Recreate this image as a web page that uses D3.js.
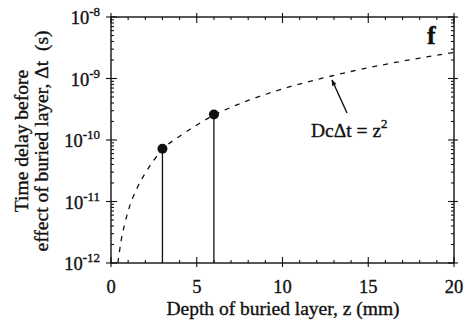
<!DOCTYPE html>
<html>
<head>
<meta charset="utf-8">
<script src="https://cdn.jsdelivr.net/npm/d3@7"></script>
<style>
  body { margin: 0; background: #fff; }
  svg text { font-family: "Liberation Serif", "DejaVu Serif", serif; fill: #111; stroke: #111; stroke-width: 0.35px; }
</style>
</head>
<body>
<svg id="chart" width="465" height="321"></svg>
<script>
'use strict';

// values
const curveZ  = [0.4, 0.6, 0.8, 1, 1.5, 2, 2.5, 3, 4, 5, 6, 7, 8, 9, 10, 12, 14, 16, 18, 20];
const curveDt = [1.0e-12, 2.4e-12, 4.3e-12, 7.0e-12, 1.6e-11, 2.9e-11, 4.7e-11, 7.0e-11,
                 1.15e-10, 1.75e-10, 2.55e-10, 3.4e-10, 4.4e-10, 5.5e-10, 6.8e-10,
                 9.6e-10, 1.3e-9, 1.7e-9, 2.15e-9, 2.65e-9];
const pointZ  = [3, 6];
const pointDt = [7.2e-11, 2.6e-10];
const xTicks  = [0, 5, 10, 15, 20];
const yExps   = [-12, -11, -10, -9, -8];

const svg = d3.select('#chart');
const pLeft = 111, pRight = 454, pTop = 17, pBottom = 263;

let x = d3.scaleLinear().domain([0, 20]).range([pLeft, pRight]);
let y = d3.scaleLog().domain([1e-12, 1e-8]).range([pBottom, pTop]);

// frame
svg.append('rect')
    .attr('x', pLeft).attr('y', pTop)
    .attr('width', pRight - pLeft).attr('height', pBottom - pTop)
    .attr('fill', 'none').attr('stroke', '#111').attr('stroke-width', 1.4);

// x ticks: major ones cross the axis, minor ones inside only
let g = svg.append('g').attr('stroke', '#111').attr('stroke-width', 1.1);
d3.range(0, 21).forEach(v => {
    let major = v % 5 === 0;
    let len = major ? 6 : 3, out = major ? 4 : 0;
    g.append('line').attr('x1', x(v)).attr('x2', x(v)).attr('y1', pBottom + out).attr('y2', pBottom - len);
    g.append('line').attr('x1', x(v)).attr('x2', x(v)).attr('y1', pTop - out).attr('y2', pTop + len);
});

// y ticks, log minor ticks on both sides
yExps.forEach((e, i) => {
    let v = Math.pow(10, e);
    g.append('line').attr('x1', pLeft - 5).attr('x2', pLeft + 6).attr('y1', y(v)).attr('y2', y(v));
    g.append('line').attr('x1', pRight + 4).attr('x2', pRight - 6).attr('y1', y(v)).attr('y2', y(v));
    if (i < yExps.length - 1) {
        for (let k = 2; k <= 9; k++) {
            g.append('line').attr('x1', pLeft).attr('x2', pLeft + 3).attr('y1', y(k * v)).attr('y2', y(k * v));
            g.append('line').attr('x1', pRight).attr('x2', pRight - 3).attr('y1', y(k * v)).attr('y2', y(k * v));
        }
    }
});

// x tick labels
svg.append('g').selectAll('text').data(xTicks).join('text')
    .attr('x', d => x(d)).attr('y', 293)
    .attr('text-anchor', 'middle').attr('font-size', 18.5)
    .text(d => d);

// y tick labels 10^e
let yl = svg.append('g').selectAll('text').data(yExps).join('text')
    .attr('x', 100).attr('y', d => y(Math.pow(10, d)) + 7)
    .attr('text-anchor', 'end').attr('font-size', 18.5);
yl.append('tspan').text('10');
yl.append('tspan').attr('dy', -8).attr('font-size', 13).text(d => d);

// axis titles
svg.append('text')
    .attr('x', 283).attr('y', 315)
    .attr('text-anchor', 'middle').attr('font-size', 19.5)
    .text('Depth of buried layer, z (mm)');

let yt = svg.append('text')
    .attr('transform', 'translate(28,141) rotate(-90)')
    .attr('text-anchor', 'middle').attr('font-size', 19.5);
yt.append('tspan').attr('x', 0).attr('dy', 0).text('Time delay before');
yt.append('tspan').attr('x', 0).attr('dy', 20).text('effect of buried layer, \u0394t\u00a0\u00a0(s)');

// dashed curve
let curve = curveZ.map((z, i) => [z, curveDt[i]]);
svg.append('path').datum(curve)
    .attr('fill', 'none').attr('stroke', '#111').attr('stroke-width', 1.3)
    .attr('stroke-dasharray', '5,6')
    .attr('d', d3.line().x(d => x(d[0])).y(d => y(d[1])).curve(d3.curveMonotoneX));

// stems and dots
let pts = pointZ.map((z, i) => ({ z: z, dt: pointDt[i] }));
svg.append('g').selectAll('line').data(pts).join('line')
    .attr('x1', d => x(d.z)).attr('x2', d => x(d.z))
    .attr('y1', d => y(d.dt)).attr('y2', pBottom)
    .attr('stroke', '#111').attr('stroke-width', 1.3);
svg.append('g').selectAll('circle').data(pts).join('circle')
    .attr('cx', d => x(d.z)).attr('cy', d => y(d.dt)).attr('r', 5)
    .attr('fill', '#111');

// annotation
svg.append('defs').append('marker')
    .attr('id', 'arr').attr('viewBox', '0 0 10 10').attr('refX', 9).attr('refY', 5)
    .attr('markerWidth', 8).attr('markerHeight', 6).attr('orient', 'auto')
    .attr('markerUnits', 'userSpaceOnUse')
    .append('path').attr('d', 'M0,1 L10,5 L0,9 Z').attr('fill', '#111');
svg.append('line')
    .attr('x1', 347).attr('y1', 113).attr('x2', 332).attr('y2', 80)
    .attr('stroke', '#111').attr('stroke-width', 1.4).attr('marker-end', 'url(#arr)');

let ann = svg.append('text').attr('x', 311).attr('y', 137).attr('font-size', 19.5);
ann.append('tspan').text('Dc\u0394t = z');
ann.append('tspan').attr('dy', -9).attr('font-size', 13).text('2');

svg.append('text')
    .attr('x', 427).attr('y', 43.5).attr('font-size', 26).attr('font-weight', 'bold')
    .text('f');
</script>
</body>
</html>
